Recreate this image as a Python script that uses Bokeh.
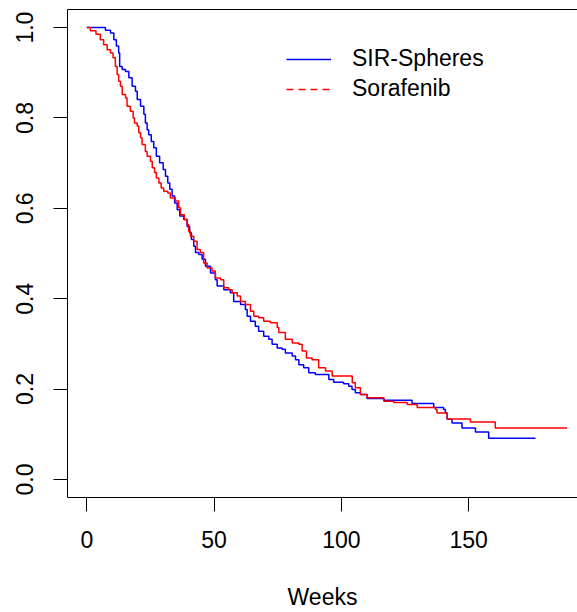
from bokeh.plotting import figure
from bokeh.models import LinearAxis, FixedTicker, PrintfTickFormatter, Legend, LegendItem, Range1d, ColumnDataSource
from bokeh.embed import file_html
from bokeh.resources import INLINE

# SIR-Spheres (weeks, survival)
sir_t = [0, 7.3, 9.3, 10.6, 11.6, 12.5, 12.9, 13.9, 15.2, 16.5, 17.8, 19.1, 19.8, 21.1, 22.4, 23.0, 23.7,
         24.3, 25.3, 26.3, 27.3, 28.6, 30.0, 30.9, 31.8, 32.6, 33.5, 34.5, 35.5, 36.5, 38.1, 39.4, 40.4,
         41.1, 42.0, 42.7, 44.0, 45.3, 46.6, 48.6, 50.5, 51.2, 53.8, 56.4, 57.7, 60.4, 62.3, 63.0, 64.3,
         66.2, 67.5, 69.5, 71.5, 72.8, 74.8, 76.7, 78.0, 80.7, 82.0, 83.3, 85.2, 87.2, 89.8, 95.1, 97.0,
         100.9, 102.9, 104.2, 105.5, 107.5, 110.1, 116.7, 127.8, 136.3, 140.2, 140.9, 141.6, 143.5, 147.4,
         152.7, 157.9, 176.3]
sir_s = [1.0, 0.994, 0.988, 0.973, 0.959, 0.944, 0.914, 0.907, 0.903, 0.889, 0.870, 0.859, 0.841, 0.826,
         0.808, 0.789, 0.774, 0.763, 0.748, 0.734, 0.715, 0.701, 0.686, 0.671, 0.656, 0.642, 0.627, 0.612,
         0.597, 0.583, 0.575, 0.560, 0.546, 0.531, 0.516, 0.502, 0.498, 0.487, 0.472, 0.457, 0.442, 0.428,
         0.420, 0.413, 0.394, 0.387, 0.376, 0.361, 0.350, 0.339, 0.328, 0.317, 0.310, 0.299, 0.291, 0.288,
         0.280, 0.273, 0.265, 0.254, 0.247, 0.236, 0.232, 0.221, 0.215, 0.212, 0.206, 0.199, 0.192, 0.188,
         0.179, 0.175, 0.168, 0.159, 0.155, 0.147, 0.133, 0.125, 0.114, 0.105, 0.091, 0.091]

# Sorafenib (weeks, survival)
sor_t = [0, 1.4, 3.6, 5.3, 6.6, 8.0, 9.3, 10.3, 11.2, 11.9, 12.5, 13.2, 13.9, 15.2, 15.8, 17.1, 18.2, 18.7,
         19.8, 20.4, 21.1, 21.7, 23.0, 23.7, 25.0, 25.7, 26.6, 27.3, 28.3, 29.2, 30.2, 31.8, 32.8, 34.8,
         36.1, 36.8, 38.3, 39.4, 40.0, 40.7, 42.0, 43.3, 44.6, 45.9, 47.3, 49.2, 50.5, 52.5, 53.8, 55.8,
         57.1, 59.1, 60.4, 62.3, 64.3, 65.6, 67.5, 69.5, 72.1, 74.8, 75.4, 78.0, 80.7, 83.3, 84.6, 86.3,
         88.5, 91.1, 93.8, 96.4, 104.3, 105.5, 107.5, 110.1, 116.7, 120.6, 125.9, 129.8, 137.0, 137.6,
         141.6, 150.7, 160.5, 188.7]
sor_s = [1.0, 0.993, 0.985, 0.973, 0.962, 0.951, 0.944, 0.933, 0.914, 0.896, 0.881, 0.870, 0.852, 0.844,
         0.826, 0.815, 0.800, 0.789, 0.782, 0.767, 0.756, 0.741, 0.726, 0.715, 0.704, 0.690, 0.679, 0.667,
         0.656, 0.645, 0.638, 0.634, 0.623, 0.616, 0.601, 0.586, 0.575, 0.564, 0.549, 0.538, 0.527, 0.509,
         0.502, 0.479, 0.468, 0.461, 0.446, 0.442, 0.424, 0.420, 0.413, 0.406, 0.394, 0.387, 0.372, 0.361,
         0.358, 0.350, 0.347, 0.336, 0.325, 0.310, 0.302, 0.299, 0.284, 0.269, 0.265, 0.247, 0.240, 0.229,
         0.214, 0.203, 0.188, 0.181, 0.173, 0.170, 0.166, 0.159, 0.155, 0.147, 0.134, 0.127, 0.114, 0.114]

x_ticks = [0, 50, 100, 150]
y_ticks = [0.0, 0.2, 0.4, 0.6, 0.8, 1.0]
series_names = ["SIR-Spheres", "Sorafenib"]
x_title = "Weeks"

FONT = "Liberation Sans"
FS = "23px"

p = figure(width=577, height=612, output_backend="svg", toolbar_location=None,
           x_range=Range1d(-7.6, 192.8), y_range=Range1d(-0.04, 1.04),
           min_border_left=67, min_border_right=0, min_border_top=9, min_border_bottom=114)
p.background_fill_color = "white"
p.border_fill_color = "white"
p.outline_line_color = None
p.xgrid.visible = False
p.ygrid.visible = False

r1 = p.step(sir_t, sir_s, mode="after", line_color="#0000FF", line_width=1.5)
r2 = p.step(sor_t, sor_s, mode="after", line_color="#FF0000", line_width=1.5)

# legend glyph renderers (legend shows red as dashed)
nan = float("nan")
src_blank = ColumnDataSource(data=dict(x=[nan], y=[nan]))
lg1 = p.line("x", "y", source=src_blank, line_color="#0000FF", line_width=1.5)
lg2 = p.line("x", "y", source=src_blank, line_color="#FF0000", line_width=1.5, line_dash="7 5")
legend = Legend(items=[LegendItem(label=series_names[0], renderers=[lg1]),
                       LegendItem(label=series_names[1], renderers=[lg2])],
                location=(219, 395), orientation="vertical",
                border_line_color=None, background_fill_alpha=0,
                padding=0, margin=0, spacing=3, glyph_width=45, glyph_height=20,
                label_standoff=21, label_text_font=FONT, label_text_font_size=FS,
                label_text_color="black")
p.add_layout(legend)

for ax in (p.xaxis[0], p.yaxis[0]):
    ax.axis_line_color = "black"
    ax.axis_line_width = 1
    ax.major_tick_line_color = "black"
    ax.major_tick_out = 14
    ax.major_tick_in = 0
    ax.minor_tick_out = 0
    ax.minor_tick_in = 0
    ax.major_label_text_font = FONT
    ax.major_label_text_font_size = FS
    ax.major_label_text_color = "black"

p.xaxis.ticker = FixedTicker(ticks=x_ticks)
p.xaxis.major_label_standoff = 19
p.xaxis.axis_label = x_title
p.xaxis.axis_label_text_font = FONT
p.xaxis.axis_label_text_font_size = FS
p.xaxis.axis_label_text_font_style = "normal"
p.xaxis.axis_label_text_color = "black"
p.xaxis.axis_label_standoff = 33

p.yaxis.ticker = FixedTicker(ticks=y_ticks)
p.yaxis.formatter = PrintfTickFormatter(format="%.1f")
p.yaxis.major_label_orientation = "vertical"
p.yaxis.major_label_standoff = 20

top = LinearAxis(ticker=FixedTicker(ticks=[]), axis_line_color="black", axis_line_width=1,
                 major_tick_out=0, major_tick_in=0, minor_tick_out=0, minor_tick_in=0,
                 major_label_standoff=0, axis_label=None)
p.add_layout(top, "above")

open("out.html", "w").write(file_html(p, INLINE))
